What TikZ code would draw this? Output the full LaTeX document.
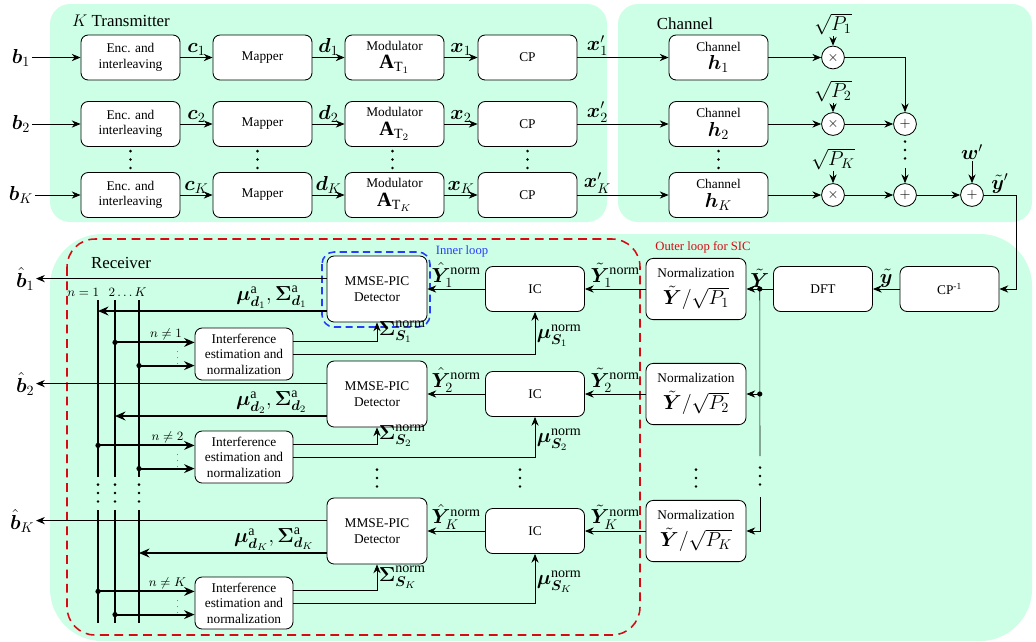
\documentclass[tikz,border=0pt]{standalone}
\usepackage{amsmath,amssymb}
\usepackage{bm}
\usepackage{fontspec}
\setmainfont{Liberation Serif}
\usetikzlibrary{arrows.meta,calc}
\definecolor{bgMint}{RGB}{204,255,229}
\definecolor{sicRed}{RGB}{215,10,20}
\definecolor{loopBlue}{RGB}{40,60,255}
\tikzset{
  blk/.style={draw, fill=white, rounded corners=1.8mm, minimum width=2.475cm,
    minimum height=1.125cm, align=center, font=\fontsize{9.5}{11}\selectfont, semithick},
  detblk/.style={blk, minimum width=2.5cm, minimum height=1.65cm},
  nrmblk/.style={blk, minimum width=2.5cm, minimum height=1.53cm, inner sep=1pt},
  intblk/.style={blk, minimum width=2.45cm, minimum height=1.3cm, inner sep=1pt},
  opc/.style={circle, draw, fill=white, minimum size=5.7mm, inner sep=0pt, semithick},
  arr/.style={semithick, -{Stealth[length=2.2mm,width=1.8mm]}},
  busarr/.style={line width=1.5pt, -{Stealth[length=2.6mm,width=2.2mm]}},
  bus/.style={line width=1.5pt},
  lbl/.style={font=\Large, inner sep=1pt},
  ttl/.style={font=\large},
  jdot/.style={circle, fill, inner sep=0pt, minimum size=1.3mm},
}
\newcommand{\vdt}[1]{\foreach \k in {-1,0,1}{\fill ([yshift=\k*2.1mm]#1) circle (0.35mm);}}

\begin{document}
\begin{tikzpicture}[x=0.025cm, y=-0.025cm]
  \useasboundingbox (0,0) rectangle (1036,641);
  % backgrounds
  \fill[bgMint, rounded corners=5mm] (50,4) rectangle (607,222);
  \fill[bgMint, rounded corners=5mm] (618,4) rectangle (1032,222);
  \fill[bgMint, rounded corners=13mm] (50,234) rectangle (1032,641);
  \node[ttl] at (121,21) {$K$ Transmitter};
  \node[ttl] at (685,24) {Channel};
  \node[ttl] at (121,263) {Receiver};

  % transmitter, user 1
  \node[lbl] (b1) at (21,57.5) {$\bm{b}_1$};
  \node[blk] (enc1) at (130.5,57.5) {Enc. and\\interleaving};
  \node[blk] (map1) at (262.5,57.5) {Mapper};
  \node[blk] (mod1) at (394.5,57.5) {Modulator\\[2pt]{\Large$\mathbf{A}_{\mathrm{T}_1}$}};
  \node[blk] (cp1) at (527.5,57.5) {CP};
  \node[blk] (ch1) at (718.5,57.5) {Channel\\[2pt]{\Large$\bm{h}_1$}};
  \node[opc] (mul1) at (833,57.5) {$\times$};
  \node[lbl] (sp1) at (833,24) {$\sqrt{P_1}$};
  \draw[arr] (b1) -- (enc1);
  \draw[arr] (enc1) -- node[lbl,above]{$\bm{c}_1$} (map1);
  \draw[arr] (map1) -- node[lbl,above]{$\bm{d}_1$} (mod1);
  \draw[arr] (mod1) -- node[lbl,above]{$\bm{x}_1$} (cp1);
  \draw[arr] (cp1) -- node[lbl,above,pos=0.22]{$\bm{x}'_1$} (ch1);
  \draw[arr] (ch1) -- (mul1);
  \draw[arr] (sp1) -- (mul1);

  % transmitter, user 2
  \node[lbl] (b2) at (21,124) {$\bm{b}_2$};
  \node[blk] (enc2) at (130.5,124) {Enc. and\\interleaving};
  \node[blk] (map2) at (262.5,124) {Mapper};
  \node[blk] (mod2) at (394.5,124) {Modulator\\[2pt]{\Large$\mathbf{A}_{\mathrm{T}_2}$}};
  \node[blk] (cp2) at (527.5,124) {CP};
  \node[blk] (ch2) at (718.5,124) {Channel\\[2pt]{\Large$\bm{h}_2$}};
  \node[opc] (mul2) at (833,124) {$\times$};
  \node[lbl] (sp2) at (833,91) {$\sqrt{P_2}$};
  \draw[arr] (b2) -- (enc2);
  \draw[arr] (enc2) -- node[lbl,above]{$\bm{c}_2$} (map2);
  \draw[arr] (map2) -- node[lbl,above]{$\bm{d}_2$} (mod2);
  \draw[arr] (mod2) -- node[lbl,above]{$\bm{x}_2$} (cp2);
  \draw[arr] (cp2) -- node[lbl,above,pos=0.22]{$\bm{x}'_2$} (ch2);
  \draw[arr] (ch2) -- (mul2);
  \draw[arr] (sp2) -- (mul2);

  % transmitter, user K
  \node[lbl] (bK) at (21,195) {$\bm{b}_K$};
  \node[blk] (encK) at (130.5,195) {Enc. and\\interleaving};
  \node[blk] (mapK) at (262.5,195) {Mapper};
  \node[blk] (modK) at (394.5,195) {Modulator\\[2pt]{\Large$\mathbf{A}_{\mathrm{T}_K}$}};
  \node[blk] (cpK) at (527.5,195) {CP};
  \node[blk] (chK) at (718.5,195) {Channel\\[2pt]{\Large$\bm{h}_K$}};
  \node[opc] (mulK) at (833,195) {$\times$};
  \node[lbl] (spK) at (833,159) {$\sqrt{P_K}$};
  \draw[arr] (bK) -- (encK);
  \draw[arr] (encK) -- node[lbl,above]{$\bm{c}_K$} (mapK);
  \draw[arr] (mapK) -- node[lbl,above]{$\bm{d}_K$} (modK);
  \draw[arr] (modK) -- node[lbl,above]{$\bm{x}_K$} (cpK);
  \draw[arr] (cpK) -- node[lbl,above,pos=0.22]{$\bm{x}'_K$} (chK);
  \draw[arr] (chK) -- (mulK);
  \draw[arr] (spK) -- (mulK);

  \vdt{$(enc2)!0.5!(encK)$}
  \vdt{$(map2)!0.5!(mapK)+(-5,0)$}
  \vdt{$(mod2)!0.5!(modK)+(-2,0)$}
  \vdt{$(cp2)!0.5!(cpK)$}
  \vdt{$(ch2)!0.5!(chK)$}

  % sum of users and noise
  \node[opc] (add2) at (905,124) {$+$};
  \node[opc] (addK) at (905,195) {$+$};
  \node[opc] (addw) at (972,195) {$+$};
  \node[lbl] (wn) at (972,152) {$\bm{w}'$};
  \coordinate (adot) at (905,168);
  \coordinate (turn) at (1016,195);
  \draw[arr] (mul1) -| (add2);
  \draw[arr] (mul2) -- (add2);
  \draw[arr] (mulK) -- (addK);
  \vdt{905,150}
  \draw[arr] (adot) -- (addK);
  \draw[arr] (addK) -- (addw);
  \draw[arr] (wn) -- (addw);

  % loops
  \draw[sicRed, line width=1.1pt, dash pattern=on 2.2mm off 1.4mm, rounded corners=7mm]
    (67,239) rectangle (640,635);
  \node[sicRed, font=\small] at (703,247) {Outer loop for SIC};
  \draw[loopBlue, line width=1.1pt, dash pattern=on 1.8mm off 1.1mm, rounded corners=3mm]
    (322,252) rectangle (430,327);
  \node[loopBlue, font=\small] at (462,251) {Inner loop};

  % receiver front end
  \node[blk] (cpi) at (949.5,289) {CP\textsuperscript{-1}};
  \node[blk] (dft) at (823,289) {DFT};
  \draw[arr] (addw) -- node[lbl,above]{$\tilde{\bm{y}}'$} (turn) |- (cpi);
  \draw[arr] (cpi) -- node[lbl,above]{$\tilde{\bm{y}}$} (dft);

  % receiver rows
  \node[nrmblk] (nrm1) at (696,289) {Normalization\\[5pt]{\Large$\tilde{\bm{Y}}/\sqrt{P_1}$}};
  \node[blk] (ic1) at (535,289) {IC};
  \node[detblk] (det1) at (377,289) {MMSE-PIC\\Detector};
  \node[intblk] (int1) at (244,354) {Interference\\estimation and\\normalization};

  \node[nrmblk] (nrm2) at (696,394) {Normalization\\[5pt]{\Large$\tilde{\bm{Y}}/\sqrt{P_2}$}};
  \node[blk] (ic2) at (535,394) {IC};
  \node[detblk] (det2) at (377,394) {MMSE-PIC\\Detector};
  \node[intblk] (int2) at (244,457) {Interference\\estimation and\\normalization};

  \node[nrmblk] (nrmK) at (696,531) {Normalization\\[5pt]{\Large$\tilde{\bm{Y}}/\sqrt{P_K}$}};
  \node[blk] (icK) at (535,531) {IC};
  \node[detblk] (detK) at (377,531) {MMSE-PIC\\Detector};
  \node[intblk] (intK) at (244,603) {Interference\\estimation and\\normalization};

  \vdt{377,478}
  \vdt{520,478}
  \vdt{696,478}

  % split of Y tilde
  \coordinate (jy1) at ($(nrm1.east)!0.5!(dft.west)$);
  \coordinate (jy2) at (jy1 |- nrm2.east);
  \coordinate (yg1) at (760,456);
  \coordinate (yg2) at (760,497);
  \draw[arr] (dft) -- node[lbl,above]{$\tilde{\bm{Y}}$} (nrm1);
  \draw (jy1) -- (yg1);
  \draw[arr] (jy2) -- (nrm2);
  \vdt{760,476}
  \draw[arr] (yg2) |- (nrmK);
  \node[jdot] at (jy1) {};
  \node[jdot] at (jy2) {};

  % normalization -> IC -> detector
  \draw[arr] (nrm1) -- node[lbl,above]{$\tilde{\bm{Y}}^{\mathrm{norm}}_1$} (ic1);
  \draw[arr] (ic1) -- node[lbl,above]{$\hat{\bm{Y}}^{\mathrm{norm}}_1$} (det1);
  \draw[arr] (nrm2) -- node[lbl,above]{$\tilde{\bm{Y}}^{\mathrm{norm}}_2$} (ic2);
  \draw[arr] (ic2) -- node[lbl,above]{$\hat{\bm{Y}}^{\mathrm{norm}}_2$} (det2);
  \draw[arr] (nrmK) -- node[lbl,above]{$\tilde{\bm{Y}}^{\mathrm{norm}}_K$} (icK);
  \draw[arr] (icK) -- node[lbl,above]{$\hat{\bm{Y}}^{\mathrm{norm}}_K$} (detK);

  % interference estimates
  \draw[arr] ([yshift=3.25mm]int1.east) -| node[lbl,pos=0.75,right]{$\bm{\Sigma}^{\mathrm{norm}}_{\bm{S}_1}$} (det1);
  \draw[arr] (int1.east) -| node[lbl,pos=0.72,right]{$\bm{\mu}^{\mathrm{norm}}_{\bm{S}_1}$} (ic1);
  \draw[arr] ([yshift=3.25mm]int2.east) -| node[lbl,pos=0.75,right]{$\bm{\Sigma}^{\mathrm{norm}}_{\bm{S}_2}$} (det2);
  \draw[arr] (int2.east) -| node[lbl,pos=0.72,right]{$\bm{\mu}^{\mathrm{norm}}_{\bm{S}_2}$} (ic2);
  \draw[arr] ([yshift=3.25mm]intK.east) -| node[lbl,pos=0.75,right]{$\bm{\Sigma}^{\mathrm{norm}}_{\bm{S}_K}$} (detK);
  \draw[arr] (intK.east) -| node[lbl,pos=0.72,right]{$\bm{\mu}^{\mathrm{norm}}_{\bm{S}_K}$} (icK);

  % buses of soft estimates
  \coordinate (bus1) at (98,300);
  \coordinate (bus2) at (115,300);
  \coordinate (busK) at (139,300);
  \draw[bus] (bus1) -- (98,477) (98,510) -- (98,623);
  \draw[bus] (bus2) -- (115,477) (115,510) -- (115,623);
  \draw[bus] (busK) -- (139,477) (139,510) -- (139,623);
  \vdt{98,493}
  \vdt{115,493}
  \vdt{139,493}
  \node[font=\small, anchor=base] at (107,296) {$n=1\;\;\,2\ldots K$};

  % detector outputs
  \node[lbl, anchor=east] (bh1) at (36,279) {$\hat{\bm{b}}_1$};
  \node[lbl, anchor=east] (bh2) at (36,384) {$\hat{\bm{b}}_2$};
  \node[lbl, anchor=east] (bhK) at (36,521) {$\hat{\bm{b}}_K$};
  \coordinate (o1) at ([yshift=2.6mm]det1.west);
  \coordinate (o2) at ([yshift=2.6mm]det2.west);
  \coordinate (oK) at ([yshift=2.6mm]detK.west);
  \draw[arr] (o1) -- (o1 -| bh1.east);
  \draw[arr] (o2) -- (o2 -| bh2.east);
  \draw[arr] (oK) -- (oK -| bhK.east);
  \coordinate (m1) at ([yshift=-5.5mm]det1.west);
  \coordinate (m2) at ([yshift=-5.5mm]det2.west);
  \coordinate (mK) at ([yshift=-5.5mm]detK.west);
  \draw[busarr] (m1) -- node[lbl,above,pos=0.24]{$\bm{\mu}^{\mathrm{a}}_{\bm{d}_1},\bm{\Sigma}^{\mathrm{a}}_{\bm{d}_1}$} (m1 -| bus1);
  \draw[busarr] (m2) -- node[lbl,above,pos=0.26]{$\bm{\mu}^{\mathrm{a}}_{\bm{d}_2},\bm{\Sigma}^{\mathrm{a}}_{\bm{d}_2}$} (m2 -| bus2);
  \draw[busarr] (mK) -- node[lbl,above,pos=0.28]{$\bm{\mu}^{\mathrm{a}}_{\bm{d}_K},\bm{\Sigma}^{\mathrm{a}}_{\bm{d}_K}$} (mK -| busK);

  % bus -> interference estimation
  \coordinate (i1a) at ([yshift=2.9mm]int1.west);
  \coordinate (i1b) at ([yshift=-2.9mm]int1.west);
  \coordinate (i2a) at ([yshift=2.9mm]int2.west);
  \coordinate (i2b) at ([yshift=-2.9mm]int2.west);
  \coordinate (iKa) at ([yshift=2.9mm]intK.west);
  \coordinate (iKb) at ([yshift=-2.9mm]intK.west);
  \draw[busarr] (i1a -| bus2) -- node[above,pos=0.64,font=\small,inner sep=1pt]{$n\neq1$} (i1a);
  \draw[busarr] (i1b -| busK) -- (i1b);
  \draw[busarr] (i2a -| bus1) -- node[above,pos=0.72,font=\small,inner sep=1pt]{$n\neq2$} (i2a);
  \draw[busarr] (i2b -| busK) -- (i2b);
  \draw[busarr] (iKa -| bus1) -- node[above,pos=0.72,font=\small,inner sep=1pt]{$n\neq K$} (iKa);
  \draw[busarr] (iKb -| bus2) -- (iKb);
  \node[jdot] at (i1a -| bus2) {};
  \node[jdot] at (i1b -| busK) {};
  \node[jdot] at (i2a -| bus1) {};
  \node[jdot] at (i2b -| busK) {};
  \node[jdot] at (iKa -| bus1) {};
  \node[jdot] at (iKb -| bus2) {};
  \node[font=\tiny] at ($(int1.west)+(-17,0)$) {$\vdots$};
  \node[font=\tiny] at ($(int2.west)+(-17,0)$) {$\vdots$};
  \node[font=\tiny] at ($(intK.west)+(-17,0)$) {$\vdots$};
\end{tikzpicture}
\end{document}
